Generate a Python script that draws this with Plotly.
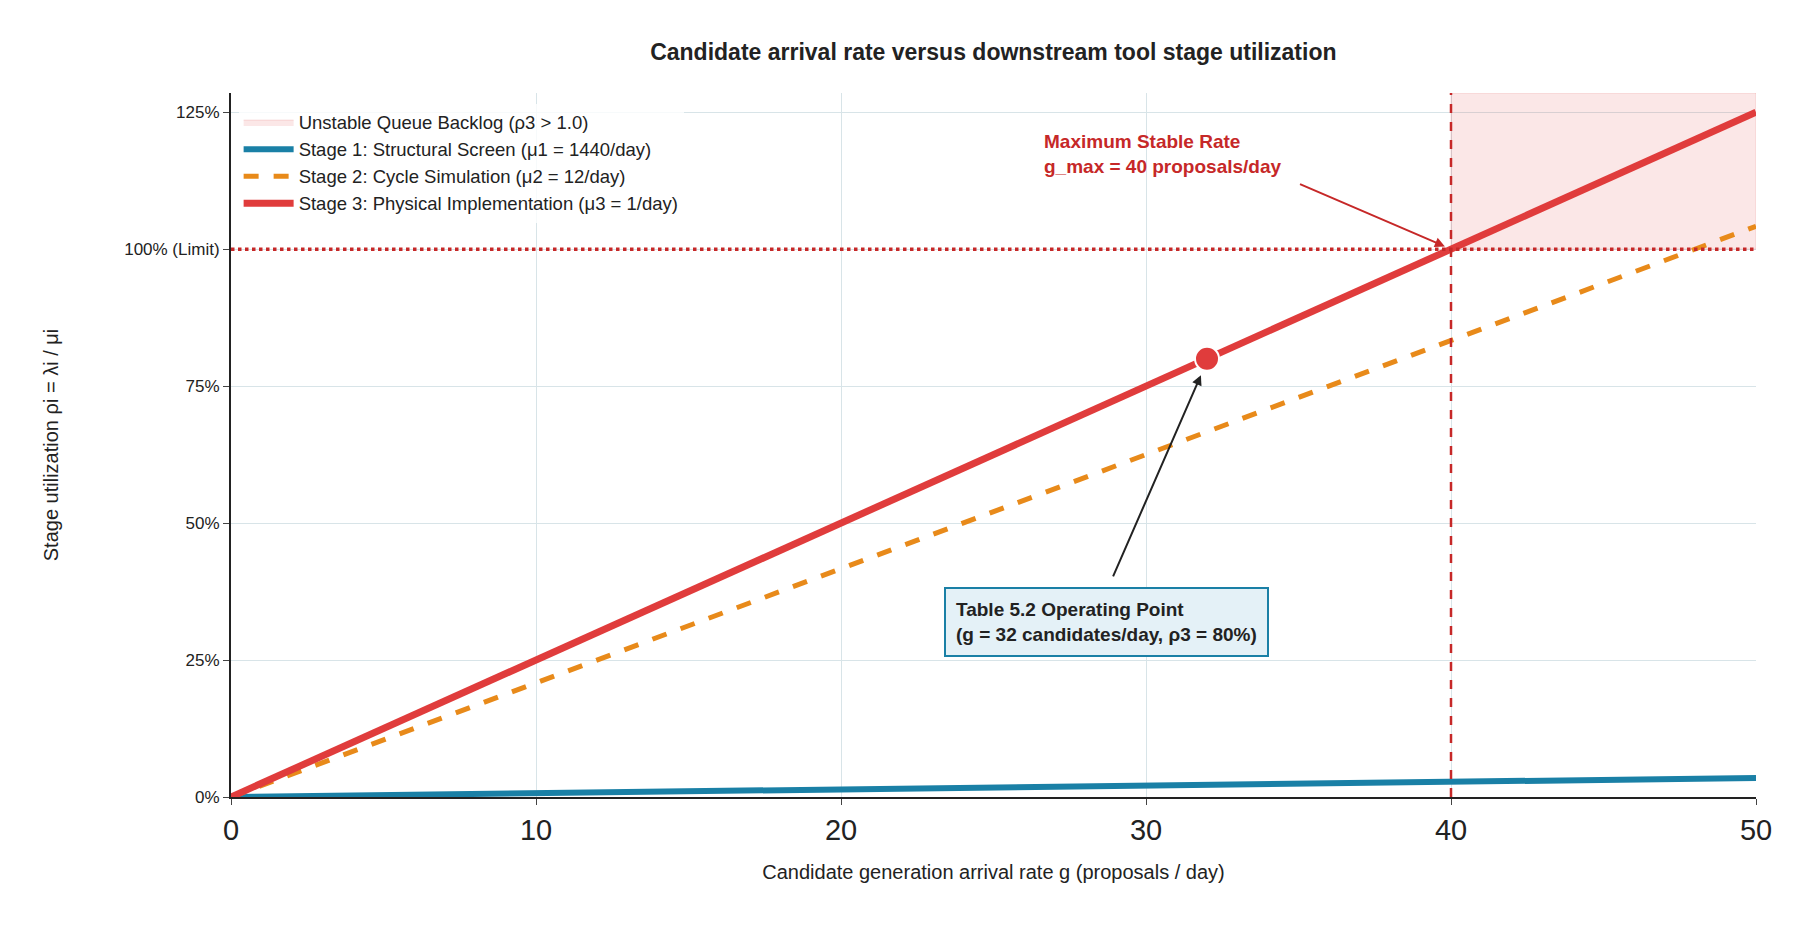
import plotly.graph_objects as go

g = [0, 10, 20, 30, 40, 50]
stage1 = [0.0, 0.0069, 0.0139, 0.0208, 0.0278, 0.0347]
stage2 = [0.0, 0.2083, 0.4167, 0.625, 0.8333, 1.0417]
stage3 = [0.0, 0.25, 0.5, 0.75, 1.0, 1.25]
op_g, op_rho = [32], [0.80]
g_max = 40
ytick_vals = [0, 0.25, 0.5, 0.75, 1.0, 1.25]
ytick_text = ["0%", "25%", "50%", "75%", "100% (Limit)", "125%"]
YTOP = 1.285

fig = go.Figure()
fig.add_trace(go.Scatter(x=[g_max, 50, 50, g_max, g_max], y=[1, 1, YTOP, YTOP, 1], fill="toself",
                         fillcolor="rgba(220,60,60,0.12)", line=dict(color="rgba(220,60,60,0.15)", width=1),
                         mode="lines", name="Unstable Queue Backlog (ρ3 > 1.0)", hoverinfo="skip"))
fig.add_trace(go.Scatter(x=g, y=stage1, mode="lines", line=dict(color="#1a80a6", width=6),
                         name="Stage 1: Structural Screen (μ1 = 1440/day)"))
fig.add_trace(go.Scatter(x=g, y=stage2, mode="lines", line=dict(color="#e88a1a", width=5, dash="dash"),
                         name="Stage 2: Cycle Simulation (μ2 = 12/day)"))
fig.add_trace(go.Scatter(x=g, y=stage3, mode="lines", line=dict(color="#e03c3c", width=7),
                         name="Stage 3: Physical Implementation (μ3 = 1/day)"))
fig.add_trace(go.Scatter(x=op_g, y=op_rho, mode="markers", showlegend=False,
                         marker=dict(color="#e03c3c", size=24, line=dict(color="white", width=2))))

fig.add_shape(type="line", xref="paper", x0=0, x1=1, y0=1, y1=1,
              line=dict(color="#c62828", width=3.5, dash="dot"))
fig.add_shape(type="line", yref="paper", x0=g_max, x1=g_max, y0=0, y1=1,
              line=dict(color="#c62828", width=2.5, dash="dash"))

fig.add_annotation(x=26.6, y=1.22, xanchor="left", yanchor="top", align="left", showarrow=False,
                   text="<b>Maximum Stable Rate<br>g_max = 40 proposals/day</b>",
                   font=dict(color="#c62828", size=19, family="Liberation Sans"))
fig.add_annotation(x=39.8, y=1.005, ax=35, ay=1.12, axref="x", ayref="y", showarrow=True,
                   arrowhead=2, arrowsize=1, arrowwidth=2, arrowcolor="#c62828", text="")
fig.add_annotation(x=31.8, y=0.77, ax=28.9, ay=0.40, axref="x", ayref="y", showarrow=True,
                   arrowhead=2, arrowsize=1, arrowwidth=2, arrowcolor="#222", text="")
fig.add_annotation(x=28.7, y=0.32, showarrow=False, align="left",
                   text="<b>Table 5.2 Operating Point<br>(g = 32 candidates/day, ρ3 = 80%)</b>",
                   font=dict(color="#222", size=19, family="Liberation Sans"),
                   bgcolor="#e4f1f7", bordercolor="#1a80a6", borderwidth=2, borderpad=10)

fig.update_layout(
    width=1808, height=934, paper_bgcolor="white", plot_bgcolor="white",
    margin=dict(l=223, r=60, t=85, b=145),
    font=dict(family="Liberation Sans", color="#222"),
    title=dict(text="<b>Candidate arrival rate versus downstream tool stage utilization</b>",
               x=0.545, xanchor="center", y=0.962, font=dict(size=23, color="#222")),
    legend=dict(x=0.005, y=0.985, xanchor="left", yanchor="top", bgcolor="rgba(255,255,255,0.8)",
                font=dict(size=18.5), tracegroupgap=2, itemwidth=50),
    showlegend=True,
)
fig.update_xaxes(range=[0, 50], tickvals=[0, 10, 20, 30, 40, 50], tickfont=dict(size=29),
                 showgrid=True, gridcolor="#d8e4e8", zeroline=False, showline=True, linecolor="#222",
                 linewidth=2, ticks="outside", ticklen=6,
                 title=dict(text="Candidate generation arrival rate g (proposals / day)", font=dict(size=20), standoff=20))
fig.update_yaxes(range=[0, YTOP], tickvals=ytick_vals, ticktext=ytick_text, tickfont=dict(size=17),
                 showgrid=True, gridcolor="#d8e4e8", zeroline=False, showline=True, linecolor="#222",
                 linewidth=2, ticks="outside", ticklen=6,
                 title=dict(text="Stage utilization ρi = λi / μi", font=dict(size=20), standoff=60))

fig.write_html("out.html")
